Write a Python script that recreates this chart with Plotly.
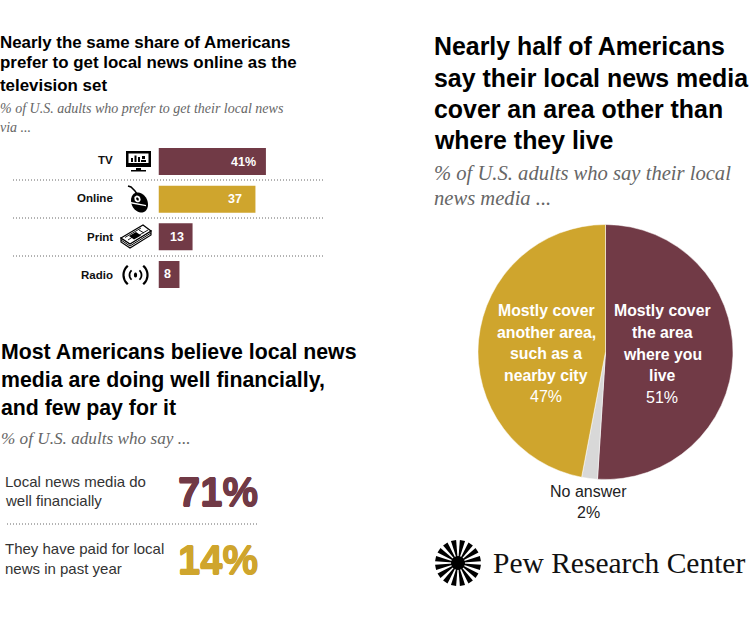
import math
import plotly.graph_objects as go

W, H = 750, 620
MAROON, GOLD, GREY = "#713a46", "#cfa52d", "#d8d8d8"
HEAD = "Liberation Sans"
SERIF = "Liberation Serif"

# ---- data ----
media = ["TV", "Online", "Print", "Radio"]
media_share = [41, 37, 13, 8]
media_labels = ["41%", "37", "13", "8"]
media_colors = [MAROON, GOLD, MAROON, MAROON]
label_inset = [7.5, 11, 6.5, 6]

coverage = ["Mostly cover the area where you live", "No answer", "Mostly cover another area, such as a nearby city"]
coverage_share = [51, 2, 47]
coverage_colors = [MAROON, GREY, GOLD]

finance_lines = [["Local news media do", "well financially"], ["They have paid for local", "news in past year"]]
finance_values = ["71%", "14%"]
finance_colors = [MAROON, GOLD]


def px(x):
    return x / W


def py(y):
    return 1 - y / H


annotations = []
shapes = []


def text(x, y, s, size, color="#000", family=HEAD, bold=False, italic=False, anchor="left", shadow=None):
    font = dict(size=size, color=color, family=family, weight=700 if bold else 400,
                style="italic" if italic else "normal")
    if shadow:
        font["shadow"] = shadow
    annotations.append(dict(x=px(x), y=py(y), xref="paper", yref="paper", text=s, showarrow=False,
                            xanchor=anchor, yanchor="middle", font=font, borderpad=0, borderwidth=0))


def path(points, fill="#000", line=None, width=1, close=True):
    d = "M" + " L".join(f"{px(a):.5f},{py(b):.5f}" for a, b in points) + (" Z" if close else "")
    shapes.append(dict(type="path", path=d, xref="paper", yref="paper",
                       fillcolor=fill if close else "rgba(0,0,0,0)",
                       line=dict(color=line or "rgba(0,0,0,0)", width=width if line else 0)))


def rect(x0, y0, x1, y1, fill="#000"):
    path([(x0, y0), (x1, y0), (x1, y1), (x0, y1)], fill)


def dotted(x0, x1, y):
    shapes.append(dict(type="line", xref="paper", yref="paper", x0=px(x0), x1=px(x1), y0=py(y), y1=py(y),
                       line=dict(color="#666", width=1, dash="1px 2px")))


def arc(cx, cy, r, a0, a1, n=14):
    return [(cx + r * math.cos(math.radians(a0 + (a1 - a0) * i / n)),
             cy + r * math.sin(math.radians(a0 + (a1 - a0) * i / n))) for i in range(n + 1)]


def ellipse(cx, cy, rx, ry, tilt, n=32):
    t = math.radians(tilt)
    pts = []
    for i in range(n):
        a = 2 * math.pi * i / n
        u, v = rx * math.cos(a), ry * math.sin(a)
        pts.append((cx + u * math.cos(t) - v * math.sin(t), cy + u * math.sin(t) + v * math.cos(t)))
    return pts


# ---- headings ----
for y, s in zip([42, 63, 85], ["Nearly the same share of Americans", "prefer to get local news online as the", "television set"]):
    text(0, y, s, 16.9, bold=True)
for y, s in zip([109, 127], ["% of U.S. adults who prefer to get their local news", "via ..."]):
    text(0, y, s, 14, color="#666", family=SERIF, italic=True)

for y, s in zip([352, 380, 408], ["Most Americans believe local news", "media are doing well financially,", "and few pay for it"]):
    text(1, y, s, 21.3, bold=True)
text(1, 439, "% of U.S. adults who say ...", 17.2, color="#666", family=SERIF, italic=True)

for y, s in zip([46, 78, 109, 140], ["Nearly half of Americans", "say their local news media", "cover an area other than", "where they live"]):
    text(434, y, s, 24.9, bold=True)
for y, s in zip([173, 198], ["% of U.S. adults who say their local", "news media ..."]):
    text(434, y, s, 20.6, color="#666", family=SERIF, italic=True)

# ---- bar labels and dividers ----
for y, s in zip([160, 198, 237, 275], media):
    text(113.5, y, s, 11.5, color="#111", bold=True, anchor="right")
for y in [180, 218, 256]:
    dotted(13, 325, y)

for name, v, lab, inset in zip(media, media_share, media_labels, label_inset):
    annotations.append(dict(x=v, y=name, xref="x", yref="y", text=lab, showarrow=False, xanchor="right",
                            xshift=-inset, font=dict(size=12.5, color="white", family=HEAD, weight=700)))

# ---- financial block ----
for ys, lines in zip([[481.5, 500.5], [548.5, 568.5]], finance_lines):
    for y, s in zip(ys, lines):
        text(5, y, s, 15, color="#333")
dotted(7, 258, 524)
for y, v, c in zip([492, 560], finance_values, finance_colors):
    text(257.5, y, v, 40, color=c, bold=True, anchor="right",
         shadow=f"0 1px 0 {c}, 0 -1px 0 {c}, 0.6px 0 0 {c}, -0.6px 0 0 {c}")

# ---- pie labels ----
for y, s in zip([310, 332, 354, 375], ["Mostly cover", "the area", "where you", "live"]):
    text(662, y, s, 15.8, color="white", bold=True, anchor="center")
text(662, 397, "51%", 16, color="white", anchor="center")
for y, s in zip([310, 332, 353, 375], ["Mostly cover", "another area,", "such as a", "nearby city"]):
    text(546, y, s, 15.8, color="white", bold=True, anchor="center")
text(546, 396, "47%", 16, color="white", anchor="center")
text(588, 491, "No answer", 16, color="#222", anchor="center")
text(588, 512, "2%", 16, color="#222", anchor="center")

# ---- icons ----
# TV
rect(126, 151, 151, 167)
rect(128.5, 153.5, 148.5, 163, "#fff")
rect(131, 158, 133, 162); rect(134.5, 155.5, 136.5, 162); rect(138, 157, 140, 162)
rect(142, 156, 145, 159); rect(141, 160, 146, 162)
rect(136, 168, 141, 170); rect(131, 170, 146, 171.5)
# Mouse
path(ellipse(139.5, 202.5, 8, 10.5, -25), "#000")
path([(128, 186), (131, 187), (135, 191), (137, 194)], line="#000", width=1.5, close=False)
path(ellipse(137.5, 199, 3, 3.5, -25, 14), "#fff")
path(ellipse(137.5, 199, 1.2, 1.8, -25, 10), "#000")
path([(131, 202), (146, 205), (146, 206.2), (131, 203.4)], "#fff")
# Newspaper
path([(121, 238), (121, 242), (130, 248), (151, 235), (151, 231), (130, 243.5)], "#fff", "#000", 1.2)
path([(121, 238), (143, 225), (151, 231), (130, 244)], "#fff", "#000", 1.2)
path([(121, 240), (130, 246), (151, 233)], line="#000", width=1, close=False)
path([(129, 236), (136, 232), (141, 235.5), (134, 239.5)], "#000")
for a, b in [((125, 237.5), (141, 228)), ((128, 240), (134, 236)), ((136, 237), (148, 230)), ((139, 230), (144, 233))]:
    path([a, b], line="#000", width=0.9, close=False)
# Radio
path(ellipse(135.5, 275, 1.6, 2.6, 0, 12), "#000")
for r, w in [(6, 1.8), (12, 2.2)]:
    path(arc(135.5, 275, r, -50, 50), line="#000", width=w, close=False)
    path(arc(135.5, 275, r, 130, 230), line="#000", width=w, close=False)

# Logo
CX, CY = 458, 563
for i in range(16):
    a = 360 / 16 * i + 11.25
    hw, hi = 6.6, 6
    path([(CX + 5 * math.cos(math.radians(a - hi)), CY + 5 * math.sin(math.radians(a - hi))),
          (CX + 23 * math.cos(math.radians(a - hw)), CY + 23 * math.sin(math.radians(a - hw))),
          (CX + 23 * math.cos(math.radians(a + hw)), CY + 23 * math.sin(math.radians(a + hw))),
          (CX + 5 * math.cos(math.radians(a + hi)), CY + 5 * math.sin(math.radians(a + hi)))], "#000")
path(arc(CX, CY, 7, 0, 360, 24), "#000")
text(492.5, 563, "Pew Research Center", 29.5, color="#111", family=SERIF)

# ---- figure ----
fig = go.Figure()
fig.add_trace(go.Bar(x=media_share, y=media, orientation="h", marker=dict(color=media_colors, line=dict(width=0)),
                     hoverinfo="skip", showlegend=False, xaxis="x", yaxis="y"))
fig.add_trace(go.Pie(labels=coverage, values=coverage_share, sort=False, direction="clockwise", rotation=0,
                     marker=dict(colors=coverage_colors, line=dict(color="#fff", width=0.5)),
                     textinfo="none", hoverinfo="skip", showlegend=False,
                     domain=dict(x=[px(478), px(733)], y=[py(479.5), py(224.5)])))

fig.update_layout(
    width=W, height=H, margin=dict(l=0, r=0, t=0, b=0), autosize=False,
    paper_bgcolor="white", plot_bgcolor="white", bargap=0.285,
    xaxis=dict(domain=[px(158.5), px(158.5 + 262)], range=[0, 100], visible=False, fixedrange=True),
    yaxis=dict(domain=[py(293.3), py(142.7)], categoryorder="array", categoryarray=media, autorange="reversed",
               visible=False, fixedrange=True),
    annotations=annotations, shapes=shapes,
)
fig.write_html("out.html", config=dict(displayModeBar=False),
               post_script="document.body.style.margin='0';")
